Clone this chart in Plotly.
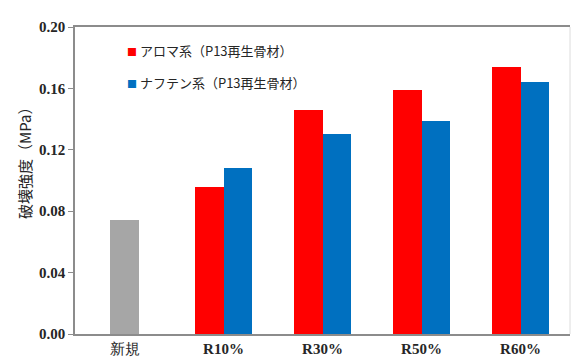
import plotly.graph_objects as go

# Fracture strength by recycled-aggregate ratio
categories = ["新規", "R10%", "R30%", "R50%", "R60%"]
new_value = [0.074]
aroma_values = [0.096, 0.146, 0.159, 0.174]
naphthene_values = [0.108, 0.130, 0.139, 0.164]
aroma_name = "アロマ系（P13再生骨材）"
naphthene_name = "ナフテン系（P13再生骨材）"
y_ticks = [0.00, 0.04, 0.08, 0.12, 0.16, 0.20]

bar_w = 0.285
idx = list(range(len(categories)))

fig = go.Figure()
fig.add_trace(go.Bar(
    x=[idx[0]], y=new_value, width=bar_w,
    marker=dict(color="#a6a6a6", line=dict(width=0)),
    showlegend=False, name="新規",
))
fig.add_trace(go.Bar(
    x=[i - bar_w / 2 for i in idx[1:]], y=aroma_values, width=bar_w,
    marker=dict(color="#ff0000", line=dict(width=0)),
    showlegend=False, name=aroma_name,
))
fig.add_trace(go.Bar(
    x=[i + bar_w / 2 for i in idx[1:]], y=naphthene_values, width=bar_w,
    marker=dict(color="#0070c0", line=dict(width=0)),
    showlegend=False, name=naphthene_name,
))

serif = "Times New Roman, Liberation Serif, serif"
jp = "Noto Sans CJK JP"

# Legend drawn as text entries with coloured squares
legend_items = [(aroma_name, "#ff0000", 0.925), (naphthene_name, "#0070c0", 0.818)]
for name, color, ypos in legend_items:
    fig.add_annotation(
        xref="paper", yref="paper", x=0.102, y=ypos, xanchor="left", yanchor="middle",
        text=f"<span style='color:{color};font-size:10px'>■</span> {name}",
        showarrow=False, font=dict(family=jp, size=13, color="#262626"),
    )

# Y-axis title
fig.add_annotation(
    xref="paper", yref="paper", x=-0.101, y=0.567, xanchor="center", yanchor="middle",
    text="破壊強度（MPa）", textangle=-90, showarrow=False,
    font=dict(family=jp, size=15, color="#262626"),
)

# Faint right-hand border of the chart frame
fig.add_shape(type="line", xref="paper", yref="paper", x0=1, x1=1, y0=0, y1=1,
              line=dict(color="#dcdcdc", width=1))

tick_text = [categories[0]] + [f"<b>{c}</b>" for c in categories[1:]]

fig.update_layout(
    width=571, height=359,
    margin=dict(l=75, r=1, t=27, b=25),
    paper_bgcolor="white", plot_bgcolor="white",
    bargap=0, barmode="overlay",
    xaxis=dict(
        range=[-0.5, 4.5], tickmode="array", tickvals=idx, ticktext=tick_text,
        showline=True, linecolor="#8c8c8c", linewidth=1.5, mirror=True,
        ticks="", showgrid=False, zeroline=False,
        tickfont=dict(family=serif, size=15, color="#262626"),
    ),
    yaxis=dict(
        range=[0, 0.2], tickmode="array", tickvals=y_ticks,
        ticktext=[f"<b>{v:.2f}</b>" for v in y_ticks],
        showline=True, linecolor="#8c8c8c", linewidth=1.5, mirror=False,
        ticks="outside", ticklen=5, tickcolor="#8c8c8c",
        showgrid=False, zeroline=False,
        tickfont=dict(family=serif, size=15, color="#262626"),
    ),
)

fig.write_html("out.html")
